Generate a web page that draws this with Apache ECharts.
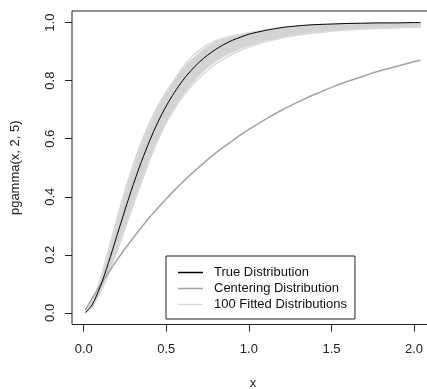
<!DOCTYPE html>
<html>
<head>
<meta charset="utf-8">
<script src="https://cdn.jsdelivr.net/npm/echarts@6/dist/echarts.min.js"></script>
<style>
  html, body { margin: 0; padding: 0; background: #fff; }
  #main { width: 427px; height: 389px; }
</style>
</head>
<body>
<div id="main"></div>
<script>
// x grid the curves were read at
var xs = [0.01, 0.05, 0.1, 0.15, 0.2, 0.25, 0.3, 0.35, 0.4, 0.45, 0.5, 0.55, 0.6, 0.65, 0.7, 0.75,
          0.8, 0.85, 0.9, 0.95, 1.0, 1.1, 1.2, 1.3, 1.4, 1.5, 1.6, 1.7, 1.8, 1.9, 2.0, 2.04];

var trueDist = [0.001, 0.027, 0.090, 0.173, 0.264, 0.355, 0.442, 0.522, 0.594, 0.658, 0.713, 0.760, 0.801, 0.835, 0.864, 0.888,
                0.908, 0.925, 0.939, 0.950, 0.960, 0.973, 0.983, 0.989, 0.993, 0.995, 0.997, 0.998, 0.999, 0.999, 1.000, 1.000];

var centering = [0.010, 0.049, 0.095, 0.139, 0.181, 0.221, 0.259, 0.295, 0.330, 0.362, 0.393, 0.423, 0.451, 0.478, 0.503, 0.528,
                 0.551, 0.573, 0.593, 0.613, 0.632, 0.667, 0.699, 0.727, 0.753, 0.777, 0.798, 0.817, 0.835, 0.850, 0.865, 0.870];

// edges of the grey band made by the 100 fitted curves
var fitUpper = [0.004, 0.038, 0.115, 0.218, 0.325, 0.424, 0.515, 0.592, 0.659, 0.716, 0.765, 0.806, 0.841, 0.871, 0.897, 0.918,
                0.935, 0.947, 0.955, 0.960, 0.966, 0.975, 0.983, 0.989, 0.993, 0.995, 0.997, 0.998, 0.999, 0.999, 1.000, 1.000];
var fitLower = [0.000, 0.019, 0.068, 0.132, 0.208, 0.288, 0.369, 0.450, 0.526, 0.596, 0.657, 0.708, 0.751, 0.788, 0.819, 0.845,
                0.867, 0.885, 0.899, 0.911, 0.922, 0.939, 0.950, 0.960, 0.967, 0.972, 0.976, 0.979, 0.981, 0.983, 0.984, 0.985];

// a few single fitted curves near the band edges
var fitA = [0.003, 0.036, 0.112, 0.210, 0.312, 0.408, 0.497, 0.575, 0.645, 0.706, 0.758, 0.803, 0.846, 0.880, 0.905, 0.924,
            0.938, 0.946, 0.952, 0.957, 0.962, 0.972, 0.980, 0.986, 0.990, 0.993, 0.995, 0.996, 0.997, 0.998, 0.998, 0.998];
var fitB = [0.001, 0.020, 0.070, 0.135, 0.212, 0.295, 0.378, 0.458, 0.530, 0.598, 0.655, 0.703, 0.745, 0.780, 0.810, 0.836,
            0.858, 0.876, 0.892, 0.905, 0.916, 0.934, 0.947, 0.957, 0.964, 0.970, 0.975, 0.978, 0.981, 0.982, 0.984, 0.985];

var xTicks = [0, 0.5, 1, 1.5, 2];
var yTicks = [0, 0.2, 0.4, 0.6, 0.8, 1];

var FONT = 'Liberation Sans, Arial, sans-serif';

function pairs(ys) {
    var out = [];
    for (var i = 0; i < xs.length; i++) out.push([xs[i], ys[i]]);
    return out;
}
function fmt(v) { return v.toFixed(1); }

// grey band: polygon along the upper edge and back along the lower one
function renderBand(params, api) {
    var pts = [];
    for (var i = 0; i < xs.length; i++) pts.push(api.coord([xs[i], fitUpper[i]]));
    for (var j = xs.length - 1; j >= 0; j--) pts.push(api.coord([xs[j], fitLower[j]]));
    return {
        type: 'polygon',
        shape: { points: pts, smooth: 0 },
        style: { fill: '#d3d3d3', stroke: '#d6d6d6', lineWidth: 1 }
    };
}

option = {
    backgroundColor: '#fff',
    animation: false,
    grid: {
        left: 72, top: 11, width: 362, height: 313.5,
        outerBoundsMode: 'none', containLabel: false,
        show: true, borderColor: '#222', borderWidth: 1, backgroundColor: 'transparent'
    },
    legend: {
        orient: 'vertical',
        left: 166, top: 256,
        data: ['True Distribution', 'Centering Distribution', '100 Fitted Distributions'],
        icon: 'rect',
        backgroundColor: '#fff',
        borderColor: '#222', borderWidth: 1, borderRadius: 0,
        padding: [10, 8, 8, 12],
        itemWidth: 25, itemHeight: 1.5, itemGap: 3,
        selectedMode: false,
        textStyle: { fontFamily: FONT, fontSize: 13, color: '#111', padding: [0, 0, 0, 6] }
    },
    xAxis: {
        type: 'value',
        min: -0.071, max: 2.121,
        name: 'x', nameLocation: 'middle', nameGap: 52, nameMoveOverlap: false,
        nameTextStyle: { fontFamily: FONT, fontSize: 13, color: '#222' },
        axisLine: { show: false, onZero: false },
        splitLine: { show: false },
        axisTick: { show: true, length: 7, customValues: xTicks, lineStyle: { color: '#222' } },
        axisLabel: { customValues: xTicks, formatter: fmt, margin: 18,
                     fontFamily: FONT, fontSize: 13, color: '#222' }
    },
    yAxis: {
        type: 'value',
        min: -0.04, max: 1.04,
        name: 'pgamma(x, 2, 5)', nameLocation: 'middle', nameGap: 50, nameMoveOverlap: false,
        nameTextStyle: { fontFamily: FONT, fontSize: 13, color: '#222' },
        axisLine: { show: false, onZero: false },
        splitLine: { show: false },
        axisTick: { show: true, length: 7, customValues: yTicks, lineStyle: { color: '#222' } },
        axisLabel: { customValues: yTicks, formatter: fmt, rotate: 90, margin: 15,
                     fontFamily: FONT, fontSize: 13, color: '#222' }
    },
    series: [
        {
            name: 'band', type: 'custom', renderItem: renderBand, data: [[0, 0]],
            silent: true, z: 1
        },
        {
            name: '100 Fitted Distributions', type: 'line', data: pairs(fitA),
            symbol: 'none', smooth: 0.3, lineStyle: { color: '#d9d9d9', width: 1.5 }, itemStyle: { color: '#d9d9d9' }
        },
        {
            name: '100 Fitted Distributions', type: 'line', data: pairs(fitB),
            symbol: 'none', smooth: 0.3, lineStyle: { color: '#d9d9d9', width: 1.5 }, itemStyle: { color: '#d9d9d9' }
        },
        {
            name: 'Centering Distribution', type: 'line', data: pairs(centering),
            symbol: 'none', smooth: 0.3, lineStyle: { color: '#a3a3a3', width: 1.5 }, itemStyle: { color: '#a3a3a3' }
        },
        {
            name: 'True Distribution', type: 'line', data: pairs(trueDist),
            symbol: 'none', smooth: 0.3, lineStyle: { color: '#000', width: 1 }, itemStyle: { color: '#000' }
        }
    ]
};

myChart = echarts.init(document.getElementById('main'), null, { renderer: 'canvas' });
myChart.setOption(option);
</script>
</body>
</html>
